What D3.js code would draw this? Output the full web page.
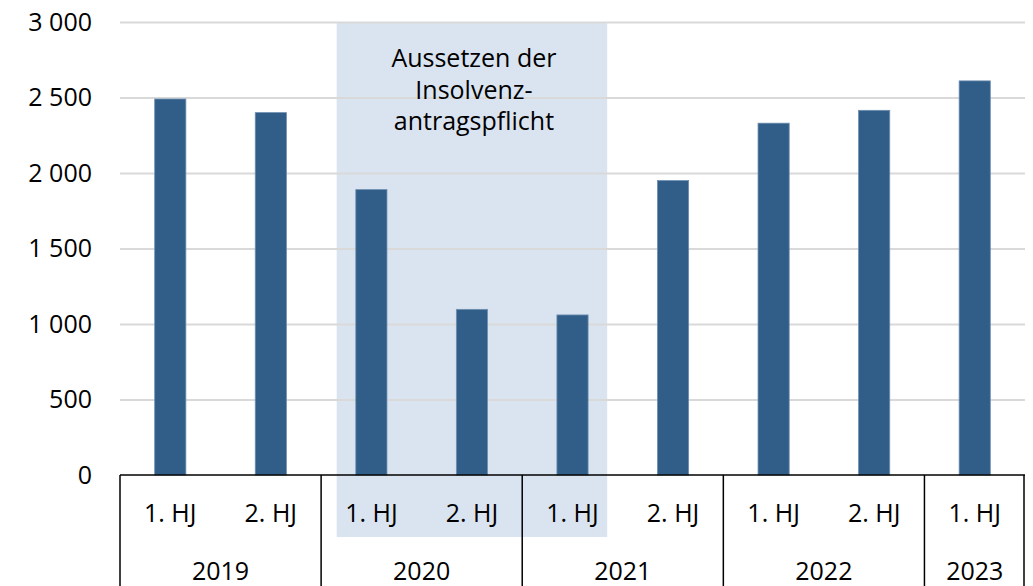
<!DOCTYPE html>
<html>
<head>
<meta charset="utf-8">
<script src="https://cdn.jsdelivr.net/npm/d3@7"></script>
<style>
  body { margin: 0; background: #fff; }
  svg { display: block; font-family: "Open Sans", sans-serif; }
</style>
</head>
<body>
<svg id="chart" width="1033" height="586"></svg>
<script>
// Data
var halfYears = ["1. HJ", "2. HJ", "1. HJ", "2. HJ", "1. HJ", "2. HJ", "1. HJ", "2. HJ", "1. HJ"];
var years = ["2019", "2019", "2020", "2020", "2021", "2021", "2022", "2022", "2023"];
var values = [2490, 2400, 1890, 1097, 1060, 1950, 2330, 2415, 2610];
var yTicks = [0, 500, 1000, 1500, 2000, 2500, 3000];
var noteLines = ["Aussetzen der", "Insolvenz-", "antragspflicht"];
var shadeFrom = 2, shadeTo = 4; // bars covered by the shaded box

var width = 1033, height = 586;
var margin = {top: 22, right: 8, bottom: 111, left: 120};

var svg = d3.select('#chart');

var x = d3.scaleBand()
    .domain(d3.range(values.length))
    .range([margin.left, width - margin.right])
    .paddingInner(0.69)
    .paddingOuter(0.345);

var y = d3.scaleLinear()
    .domain([0, 3000])
    .range([height - margin.bottom, margin.top]);

var fmt = d3.formatLocale({decimal: ",", thousands: " ", grouping: [3], currency: ["", ""]}).format(",d");

// shaded box behind everything
var gap = x.step() * 0.19;
var shadeX0 = x(shadeFrom) - gap, shadeX1 = x(shadeTo) + x.bandwidth() + gap;
svg.append('rect')
    .attr('x', shadeX0)
    .attr('y', y(3000))
    .attr('width', shadeX1 - shadeX0)
    .attr('height', 537 - y(3000))
    .attr('fill', '#d9e4f0');

// gridlines + y labels
var yAxis = svg.append('g')
    .attr('transform', 'translate(' + margin.left + ',0)')
    .call(d3.axisLeft(y).tickValues(yTicks).tickFormat(fmt)
        .tickSize(-(width - margin.left - margin.right)).tickPadding(28));
yAxis.attr('font-family', null).attr('font-size', null);
yAxis.select('.domain').remove();
yAxis.selectAll('.tick line')
    .attr('stroke', '#d9d9d9')
    .attr('stroke-width', 2)
    .filter(function(d) { return d === 0; }).remove();
yAxis.selectAll('.tick text')
    .attr('fill', '#000')
    .style('font-family', '"Open Sans", sans-serif')
    .style('font-size', '25px');

// bars
svg.append('g').selectAll('rect')
    .data(values)
    .join('rect')
    .attr('x', function(d, i) { return x(i); })
    .attr('y', function(d) { return y(d); })
    .attr('width', x.bandwidth())
    .attr('height', function(d) { return y(0) - y(d); })
    .attr('fill', '#305e89')
    .attr('stroke', '#6f8fb0')
    .attr('stroke-width', 0.8);

// annotation
var noteX = (shadeX0 + shadeX1) / 2 + 2;
svg.append('g').selectAll('text')
    .data(noteLines)
    .join('text')
    .attr('x', noteX)
    .attr('y', function(d, i) { return 67 + i * 31.5; })
    .attr('text-anchor', 'middle')
    .style('font-size', '25px')
    .attr('fill', '#000')
    .text(function(d) { return d; });

// category axis: baseline, group separators, labels
var axisY = y(0);
svg.append('line')
    .attr('x1', margin.left).attr('x2', width - margin.right)
    .attr('y1', axisY).attr('y2', axisY)
    .attr('stroke', '#000').attr('stroke-width', 1.5);

var groups = [];
years.forEach(function(yr, i) {
    var last = groups[groups.length - 1];
    if (last && last.year === yr) last.end = i;
    else groups.push({year: yr, start: i, end: i});
});

var seps = [x.range()[0]].concat(groups.map(function(g) {
    return x(g.end) + x.bandwidth() + x.step() * x.paddingInner() / 2;
}));
seps[seps.length - 1] = x.range()[1] - 1;

svg.append('g').selectAll('line')
    .data(seps)
    .join('line')
    .attr('x1', function(d) { return d; }).attr('x2', function(d) { return d; })
    .attr('y1', axisY).attr('y2', height)
    .attr('stroke', '#000').attr('stroke-width', 1.5);

svg.append('g').selectAll('text')
    .data(halfYears)
    .join('text')
    .attr('x', function(d, i) { return x(i) + x.bandwidth() / 2; })
    .attr('y', 522)
    .attr('text-anchor', 'middle')
    .style('font-size', '25px')
    .attr('fill', '#000')
    .text(function(d) { return d; });

svg.append('g').selectAll('text')
    .data(groups)
    .join('text')
    .attr('x', function(g) { return (x(g.start) + x(g.end) + x.bandwidth()) / 2; })
    .attr('y', 580)
    .attr('text-anchor', 'middle')
    .style('font-size', '25px')
    .attr('fill', '#000')
    .text(function(g) { return g.year; });
</script>
</body>
</html>
